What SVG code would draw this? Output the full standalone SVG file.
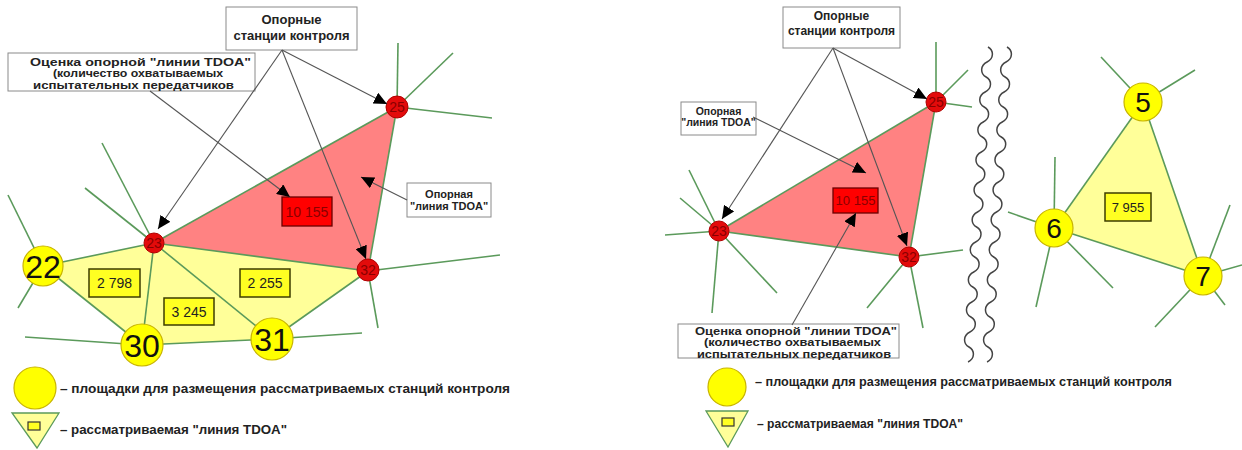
<svg xmlns="http://www.w3.org/2000/svg" width="1242" height="450" viewBox="0 0 1242 450">
<style>
.g{stroke:#5b9a5b;stroke-width:1.6;fill:none}
.ar{stroke:#555;stroke-width:1.1;fill:none;marker-end:url(#ah)}
.box{fill:#fff;stroke:#8a8a8a;stroke-width:1}
.bt{font-family:"Liberation Sans",Arial,sans-serif;font-weight:bold;fill:#222;text-anchor:middle}
.yn{fill:#ffff00;stroke:#c8b400;stroke-width:1.2}
.rn{fill:#e30b0b;stroke:#b00000;stroke-width:1}
.rt{font-family:"Liberation Sans",Arial,sans-serif;font-size:14px;fill:#8a0000;text-anchor:middle}
.yt{font-family:"Liberation Sans",Arial,sans-serif;fill:#111;text-anchor:middle}
.nb{fill:#ffff22;stroke:#3d3d00;stroke-width:1.5}
.nt{font-family:"Liberation Sans",Arial,sans-serif;font-size:14px;fill:#222;text-anchor:middle}
.lg{font-family:"Liberation Sans",Arial,sans-serif;font-weight:bold;fill:#222}
.wv{stroke:#444;stroke-width:1.5;fill:none}
</style>
<defs>
<marker id="ah" markerUnits="userSpaceOnUse" markerWidth="14" markerHeight="12" refX="13" refY="6" orient="auto">
<path d="M0,0 L13,6 L0,12 Z" fill="#000"/>
</marker>
</defs>
<rect width="1242" height="450" fill="#fff"/>

<!-- LEFT PANEL -->
<g id="areas-left">
<polygon points="43,266 154,243 368,271 272,339 142,345" fill="#ffff99"/>
<polygon points="154,243 397,107 368,271" fill="#ff8282"/>
</g>
<g id="edges-left">
<line class="g" x1="397" y1="107" x2="398" y2="43"/>
<line class="g" x1="397" y1="107" x2="453" y2="53"/>
<line class="g" x1="397" y1="107" x2="492" y2="118"/>
<line class="g" x1="154" y1="243" x2="85" y2="188"/>
<line class="g" x1="154" y1="243" x2="102" y2="143"/>
<line class="g" x1="43" y1="266" x2="8" y2="195"/>
<line class="g" x1="43" y1="266" x2="18" y2="308"/>
<line class="g" x1="368" y1="271" x2="500" y2="255"/>
<line class="g" x1="368" y1="271" x2="378" y2="328"/>
<line class="g" x1="142" y1="345" x2="25" y2="337"/>
<line class="g" x1="272" y1="339" x2="362" y2="333"/>
<line class="g" x1="43" y1="266" x2="154" y2="243"/>
<line class="g" x1="43" y1="266" x2="142" y2="345"/>
<line class="g" x1="154" y1="243" x2="142" y2="345"/>
<line class="g" x1="154" y1="243" x2="272" y2="339"/>
<line class="g" x1="142" y1="345" x2="272" y2="339"/>
<line class="g" x1="272" y1="339" x2="368" y2="271"/>
<line class="g" x1="154" y1="243" x2="368" y2="271"/>
<line class="g" x1="154" y1="243" x2="397" y2="107"/>
<line class="g" x1="397" y1="107" x2="368" y2="271"/>
</g>
<g id="box-2798"><rect class="nb" x="89" y="269" width="51" height="28"/><text class="nt" x="114.5" y="288">2 798</text></g>
<g id="box-3245"><rect class="nb" x="164" y="298" width="50" height="27"/><text class="nt" x="189" y="316.5">3 245</text></g>
<g id="box-2255"><rect class="nb" x="240" y="269" width="50" height="28"/><text class="nt" x="265" y="288">2 255</text></g>
<g id="box-10155-left"><rect x="282" y="197" width="50" height="29" fill="#ff0000" stroke="#6a0000" stroke-width="1.3"/><text class="rt" x="307" y="216.5">10 155</text></g>
<g id="node-22"><circle class="yn" cx="43" cy="266" r="20"/><text class="yt" x="43" y="277.5" font-size="32">22</text></g>
<g id="node-30"><circle class="yn" cx="142" cy="345" r="21"/><text class="yt" x="142" y="356.5" font-size="32">30</text></g>
<g id="node-31"><circle class="yn" cx="272" cy="339" r="21"/><text class="yt" x="272" y="350.5" font-size="32">31</text></g>
<g id="node-23"><circle class="rn" cx="154" cy="243" r="10"/><text class="rt" x="154" y="248">23</text></g>
<g id="node-25"><circle class="rn" cx="397" cy="107" r="11"/><text class="rt" x="397" y="112">25</text></g>
<g id="node-32"><circle class="rn" cx="368" cy="270" r="11"/><text class="rt" x="368" y="275">32</text></g>
<g id="label-stations-left"><rect class="box" x="226" y="7" width="131" height="43"/><text class="bt" x="291.5" y="24" font-size="13">Опорные</text><text class="bt" x="291.5" y="40" font-size="13">станции контроля</text></g>
<g id="label-estimate-left"><rect class="box" x="8" y="53" width="247" height="38"/>
<text class="bt" x="140.5" y="65.5" font-size="11" textLength="221" lengthAdjust="spacingAndGlyphs">Оценка опорной "линии TDOA"</text>
<text class="bt" x="138" y="77.3" font-size="11" textLength="170" lengthAdjust="spacingAndGlyphs">(количество охватываемых</text>
<text class="bt" x="133.5" y="89" font-size="11" textLength="201" lengthAdjust="spacingAndGlyphs">испытательных передатчиков</text></g>
<g id="label-line-left"><rect class="box" x="407" y="183" width="84" height="34"/><text class="bt" x="449" y="198" font-size="11">Опорная</text><text class="bt" x="449" y="210" font-size="11">"линия TDOA"</text></g>
<g id="connectors-left">
<line class="ar" x1="282" y1="50" x2="387" y2="104"/>
<line class="ar" x1="282" y1="50" x2="158" y2="229"/>
<line class="ar" x1="282" y1="50" x2="366" y2="259"/>
<line class="ar" x1="150" y1="91" x2="290" y2="197"/>
<line class="ar" x1="407" y1="200" x2="361" y2="177"/>
</g>
<g id="legend-left">
<circle class="yn" cx="35" cy="388" r="21" stroke="none"/>
<text class="lg" x="60" y="393" font-size="13" textLength="450" lengthAdjust="spacingAndGlyphs">– площадки для размещения рассматриваемых станций контроля</text>
<polygon points="12,413 59,413 37,448" fill="#ffff99" stroke="#5b9a5b" stroke-width="1.3"/>
<rect x="28" y="422" width="12" height="8" fill="#ffff22" stroke="#333" stroke-width="1.2"/>
<text class="lg" x="60" y="434" font-size="12.5" textLength="227" lengthAdjust="spacingAndGlyphs">– рассматриваемая "линия TDOA"</text>
</g>

<!-- RIGHT PANEL -->
<g id="areas-right">
<polygon points="719,231 936,102 909,257" fill="#ff8282"/>
<polygon points="1143,102 1054,228 1203,276" fill="#ffff99"/>
</g>
<g id="edges-right">
<line class="g" x1="936" y1="102" x2="936" y2="42"/>
<line class="g" x1="936" y1="102" x2="968" y2="70"/>
<line class="g" x1="936" y1="102" x2="972" y2="107"/>
<line class="g" x1="719" y1="231" x2="665" y2="235"/>
<line class="g" x1="719" y1="231" x2="712" y2="313"/>
<line class="g" x1="719" y1="231" x2="777" y2="293"/>
<line class="g" x1="719" y1="231" x2="689" y2="170"/>
<line class="g" x1="719" y1="231" x2="680" y2="198"/>
<line class="g" x1="909" y1="257" x2="963" y2="250"/>
<line class="g" x1="909" y1="257" x2="923" y2="328"/>
<line class="g" x1="909" y1="257" x2="867" y2="308"/>
<line class="g" x1="719" y1="231" x2="936" y2="102"/>
<line class="g" x1="936" y1="102" x2="909" y2="257"/>
<line class="g" x1="719" y1="231" x2="909" y2="257"/>
<line class="g" x1="1143" y1="102" x2="1101" y2="57"/>
<line class="g" x1="1143" y1="102" x2="1195" y2="70"/>
<line class="g" x1="1054" y1="228" x2="1055" y2="157"/>
<line class="g" x1="1054" y1="228" x2="1008" y2="212"/>
<line class="g" x1="1054" y1="228" x2="1036" y2="307"/>
<line class="g" x1="1054" y1="228" x2="1113" y2="288"/>
<line class="g" x1="1203" y1="276" x2="1230" y2="205"/>
<line class="g" x1="1203" y1="276" x2="1242" y2="265"/>
<line class="g" x1="1203" y1="276" x2="1155" y2="327"/>
<line class="g" x1="1203" y1="276" x2="1225" y2="305"/>
<line class="g" x1="1143" y1="102" x2="1054" y2="228"/>
<line class="g" x1="1054" y1="228" x2="1203" y2="276"/>
<line class="g" x1="1143" y1="102" x2="1203" y2="276"/>
</g>
<g id="break-lines">
<path class="wv" d="M988,47 c6,3.5 6,11.5 -0.95,15 c-7,3.5 -7,11.5 -0.95,15 c6,3.5 6,11.5 -0.95,15 c-7,3.5 -7,11.5 -0.95,15 c6,3.5 6,11.5 -0.95,15 c-7,3.5 -7,11.5 -0.95,15 c6,3.5 6,11.5 -0.95,15 c-7,3.5 -7,11.5 -0.95,15 c6,3.5 6,11.5 -0.95,15 c-7,3.5 -7,11.5 -0.95,15 c6,3.5 6,11.5 -0.95,15 c-7,3.5 -7,11.5 -0.95,15 c6,3.5 6,11.5 -0.95,15 c-7,3.5 -7,11.5 -0.95,15 c6,3.5 6,11.5 -0.95,15 c-7,3.5 -7,11.5 -0.95,15 c6,3.5 6,11.5 -0.95,15 c-7,3.5 -7,11.5 -0.95,15 c6,3.5 6,11.5 -0.95,15 c-7,3.5 -7,11.5 -0.95,15 c6,3.5 6,11.5 -0.95,15"/>
<path class="wv" d="M1007,47 c6,3.5 6,11.5 -0.95,15 c-7,3.5 -7,11.5 -0.95,15 c6,3.5 6,11.5 -0.95,15 c-7,3.5 -7,11.5 -0.95,15 c6,3.5 6,11.5 -0.95,15 c-7,3.5 -7,11.5 -0.95,15 c6,3.5 6,11.5 -0.95,15 c-7,3.5 -7,11.5 -0.95,15 c6,3.5 6,11.5 -0.95,15 c-7,3.5 -7,11.5 -0.95,15 c6,3.5 6,11.5 -0.95,15 c-7,3.5 -7,11.5 -0.95,15 c6,3.5 6,11.5 -0.95,15 c-7,3.5 -7,11.5 -0.95,15 c6,3.5 6,11.5 -0.95,15 c-7,3.5 -7,11.5 -0.95,15 c6,3.5 6,11.5 -0.95,15 c-7,3.5 -7,11.5 -0.95,15 c6,3.5 6,11.5 -0.95,15 c-7,3.5 -7,11.5 -0.95,15 c6,3.5 6,11.5 -0.95,15"/>
</g>
<g id="box-10155-right"><rect x="833" y="188" width="45" height="25" fill="#ff0000" stroke="#6a0000" stroke-width="1.3"/><text class="rt" x="855.5" y="205" style="font-size:13px">10 155</text></g>
<g id="box-7955"><rect class="nb" x="1105" y="193" width="46" height="28"/><text class="nt" x="1128" y="212" style="font-size:13px">7 955</text></g>
<g id="node-23-right"><circle class="rn" cx="719" cy="231" r="10"/><text class="rt" x="719" y="236">23</text></g>
<g id="node-25-right"><circle class="rn" cx="936" cy="102" r="10"/><text class="rt" x="936" y="107">25</text></g>
<g id="node-32-right"><circle class="rn" cx="909" cy="257" r="10"/><text class="rt" x="909" y="262">32</text></g>
<g id="node-5"><circle class="yn" cx="1143" cy="102" r="19"/><text class="yt" x="1143" y="112" font-size="28">5</text></g>
<g id="node-6"><circle class="yn" cx="1054" cy="228" r="19"/><text class="yt" x="1054" y="238" font-size="28">6</text></g>
<g id="node-7"><circle class="yn" cx="1203" cy="276" r="19"/><text class="yt" x="1203" y="286" font-size="28">7</text></g>
<g id="label-stations-right"><rect class="box" x="783" y="7" width="117" height="41"/><text class="bt" x="841.5" y="20" font-size="12">Опорные</text><text class="bt" x="841.5" y="35" font-size="12">станции контроля</text></g>
<g id="label-line-right"><rect class="box" x="681" y="102" width="75" height="33"/><text class="bt" x="718.5" y="115" font-size="10.5">Опорная</text><text class="bt" x="718.5" y="126" font-size="10.5">"линия TDOA"</text></g>
<g id="label-estimate-right"><rect class="box" x="678" y="324" width="221" height="34"/>
<text class="bt" x="796" y="334.5" font-size="11" textLength="202" lengthAdjust="spacingAndGlyphs">Оценка опорной "линии TDOA"</text>
<text class="bt" x="792.5" y="346" font-size="11" textLength="177" lengthAdjust="spacingAndGlyphs">(количество охватываемых</text>
<text class="bt" x="794" y="357.5" font-size="11" textLength="194" lengthAdjust="spacingAndGlyphs">испытательных передатчиков</text></g>
<g id="connectors-right">
<line class="ar" x1="833" y1="48" x2="927" y2="99"/>
<line class="ar" x1="833" y1="48" x2="722" y2="219"/>
<line class="ar" x1="833" y1="48" x2="907" y2="246"/>
<line class="ar" x1="753" y1="117" x2="866" y2="173"/>
<line class="ar" x1="792" y1="325" x2="856" y2="213"/>
</g>
<g id="legend-right">
<circle class="yn" cx="727" cy="387" r="19" stroke="none"/>
<text class="lg" x="755" y="386" font-size="12" textLength="417" lengthAdjust="spacingAndGlyphs">– площадки для размещения рассматриваемых станций контроля</text>
<polygon points="706,411 748,411 728,447" fill="#ffff99" stroke="#5b9a5b" stroke-width="1.3"/>
<rect x="722" y="418" width="12" height="8" fill="#ffff22" stroke="#333" stroke-width="1.2"/>
<text class="lg" x="757" y="428" font-size="12" textLength="206" lengthAdjust="spacingAndGlyphs">– рассматриваемая "линия TDOA"</text>
</g>
</svg>
